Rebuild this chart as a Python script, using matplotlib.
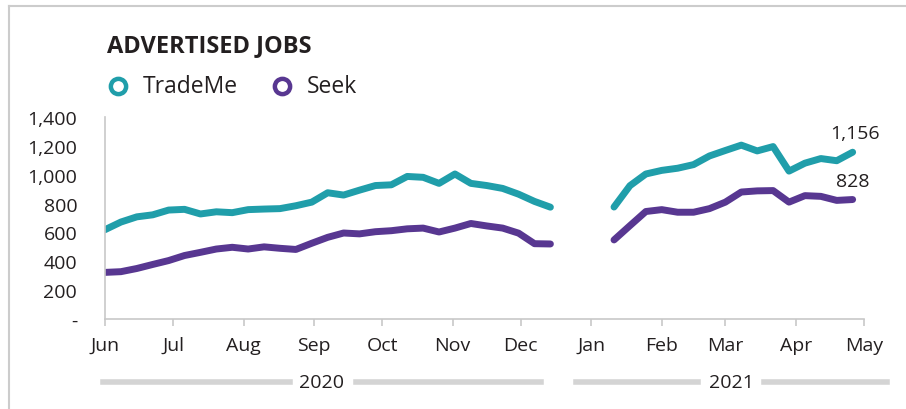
import numpy as np
import pandas as pd
import matplotlib
matplotlib.use("Agg")
import matplotlib.pyplot as plt
import matplotlib.dates as mdates
from matplotlib.lines import Line2D

plt.rcParams['font.family'] = ['Open Sans', 'DejaVu Sans']

# weekly series, two stretches (gap over the holidays)
dates_2020 = pd.date_range("2020-06-01", periods=29, freq="7D")
trademe_2020 = [619, 672, 708, 722, 755, 760, 728, 743, 737, 758, 762, 765, 785, 810, 875,
                859, 893, 925, 930, 988, 982, 940, 1005, 940, 925, 905, 865, 815, 775]
seek_2020 = [323, 328, 350, 378, 405, 440, 462, 485, 497, 485, 500, 490, 482, 525, 566,
             596, 590, 605, 612, 625, 630, 603, 630, 662, 645, 630, 595, 522, 520]

dates_2021 = pd.date_range("2021-01-11", periods=16, freq="7D")
trademe_2021 = [776, 924, 1005, 1030, 1045, 1070, 1130, 1168, 1205, 1165, 1195, 1025,
                1080, 1112, 1097, 1156]
seek_2021 = [548, 647, 745, 758, 740, 740, 765, 810, 880, 888, 890, 810, 855, 850, 822, 828]

yticks = [0, 200, 400, 600, 800, 1000, 1200, 1400]
ytick_labels = ["-", "200", "400", "600", "800", "1,000", "1,200", "1,400"]

TEAL = "#209eaa"
PURPLE = "#583791"
TXT = "#231f20"
GREY = "#c8c8c8"
FS = 14

W, H = 906, 410
fig = plt.figure(figsize=(W / 100, H / 100), dpi=100)
ax = fig.add_axes([105 / W, 1 - 320 / H, (864 - 105) / W, (320 - 118) / H])

for d, tm, sk in [(dates_2020, trademe_2020, seek_2020), (dates_2021, trademe_2021, seek_2021)]:
    ax.plot(d, tm, color=TEAL, lw=5, solid_capstyle='round', solid_joinstyle='round')
    ax.plot(d, sk, color=PURPLE, lw=5, solid_capstyle='round', solid_joinstyle='round')

ax.set_xlim(pd.Timestamp("2020-06-01"), pd.Timestamp("2021-05-01"))
ax.set_ylim(0, 1400)
ax.set_yticks(yticks)
ax.set_yticklabels(ytick_labels)
ax.xaxis.set_major_locator(mdates.MonthLocator())
ax.xaxis.set_major_formatter(mdates.DateFormatter("%b"))

for s in ['top', 'right']:
    ax.spines[s].set_visible(False)
for s in ['left', 'bottom']:
    ax.spines[s].set_color(GREY)
    ax.spines[s].set_linewidth(1.2)
ax.tick_params(axis='x', length=5, width=1.2, color=GREY, pad=7, labelsize=FS, labelcolor=TXT)
ax.tick_params(axis='y', length=0, pad=20, labelsize=FS, labelcolor=TXT)

# end labels
ax.annotate(f"{trademe_2021[-1]:,}", (dates_2021[-1], trademe_2021[-1]), xytext=(2, 19),
            textcoords='offset pixels', ha='center', va='center', fontsize=FS, color=TXT)
ax.annotate(f"{seek_2021[-1]:,}", (dates_2021[-1], seek_2021[-1]), xytext=(0, 19),
            textcoords='offset pixels', ha='center', va='center', fontsize=FS, color=TXT)

# title and legend
fig.text(107 / W, 1 - 46 / H, "ADVERTISED JOBS", fontsize=17, fontweight='bold',
         color=TXT, ha='left', va='center')
for xm, name, col in [(118, "TradeMe", TEAL), (282, "Seek", PURPLE)]:
    fig.add_artist(Line2D([xm / W], [1 - 87 / H], transform=fig.transFigure, marker='o',
                          markersize=11, markerfacecolor='white', markeredgecolor=col,
                          markeredgewidth=3.2, linestyle='none'))
    fig.text((xm + 25) / W, 1 - 87 / H, name, fontsize=16.5, color=TXT, ha='left', va='center')

# year brackets under the month axis
yy = 1 - 383 / H
for x0, x1, xt, label in [(103, 290, 322, "2020"), (356, 541, None, None),
                          (576, 698, 731, "2021"), (764, 887, None, None)]:
    fig.add_artist(Line2D([x0 / W, x1 / W], [yy, yy], transform=fig.transFigure,
                          color="#d4d4d4", lw=4))
    if label:
        fig.text(xt / W, yy, label, fontsize=FS, color=TXT, ha='center', va='center')

# frame lines of the panel
fig.add_artist(Line2D([9 / W, 1], [1 - 7 / H, 1 - 7 / H], transform=fig.transFigure,
                      color="#cccccc", lw=1.5))
fig.add_artist(Line2D([9 / W, 9 / W], [0, 1 - 7 / H], transform=fig.transFigure,
                      color="#cccccc", lw=1.5))

fig.savefig("out.png", dpi=100)
